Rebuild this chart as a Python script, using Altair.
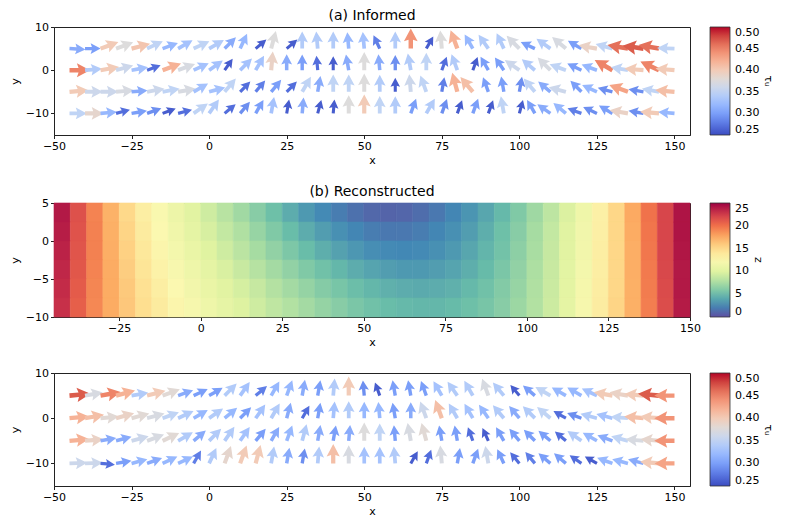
import altair as alt
import pandas as pd

# ---------------- quiver grid ----------------
XS = list(range(-45, 155, 5))          # 40 arrow columns
ROW_Y = [5, 0, -5, -10]

# (a) Informed: direction (deg, 0 = right, 90 = up) and tau_u per row
A_DIR = {
    5:   [-3, 0, 20, 20, 15, 25, 20, 30, 25, 30, 45, 65, 40, 75, 40, 90, 95, 90, 95, 95,
          115, 90, 90, 60, 95, 110, 120, 125, 115, 135, 155, 145, 140, 150, 170, 165, 170, 172, 170, 178],
    0:   [0, 5, 10, 15, 10, 20, 20, 20, 25, 35, 55, 45, 60, 85, 90, 90, 95, 90, 100, 90,
          95, 90, 100, 90, 70, 110, 70, 120, 125, 145, 140, 135, 160, 155, 160, 150, 170, 175, 155, 175],
    -5:  [5, 0, 0, 5, 5, 10, 10, 10, 30, 15, 50, 45, 50, 50, 45, 60, 80, 90, 90, 90,
          90, 90, 95, 110, 80, 105, 130, 110, 100, 80, 130, 140, 165, 135, 155, 165, 160, 170, 170, 175],
    -10: [0, 0, 5, 15, 10, 20, 20, 15, 35, 55, 40, 50, 60, 80, 80, 85, 75, 85, 90, 90,
          90, 90, 70, 60, 70, 70, 70, 70, 100, 75, 120, 145, 140, 160, 155, 150, 170, 170, 175, 175],
}
A_TAU = {
    5:   [0.31, 0.30, 0.40, 0.375, 0.405, 0.35, 0.32, 0.33, 0.35, 0.34, 0.31, 0.32, 0.26, 0.375, 0.26, 0.34, 0.34, 0.34, 0.32, 0.33,
          0.28, 0.34, 0.44, 0.26, 0.375, 0.42, 0.32, 0.34, 0.34, 0.37, 0.30, 0.34, 0.37, 0.30, 0.39, 0.35, 0.46, 0.47, 0.46, 0.35],
    0:   [0.45, 0.34, 0.40, 0.36, 0.33, 0.27, 0.42, 0.37, 0.33, 0.33, 0.26, 0.33, 0.33, 0.39, 0.31, 0.30, 0.27, 0.26, 0.31, 0.375,
          0.31, 0.29, 0.34, 0.35, 0.27, 0.34, 0.26, 0.30, 0.30, 0.36, 0.34, 0.37, 0.35, 0.30, 0.32, 0.45, 0.35, 0.40, 0.45, 0.40],
    -5:  [0.40, 0.36, 0.36, 0.37, 0.31, 0.36, 0.35, 0.37, 0.33, 0.33, 0.35, 0.27, 0.28, 0.30, 0.27, 0.35, 0.31, 0.35, 0.35, 0.375,
          0.34, 0.26, 0.36, 0.35, 0.28, 0.42, 0.41, 0.30, 0.30, 0.29, 0.35, 0.31, 0.36, 0.30, 0.32, 0.29, 0.43, 0.29, 0.35, 0.41],
    -10: [0.35, 0.385, 0.32, 0.27, 0.30, 0.29, 0.26, 0.27, 0.35, 0.34, 0.27, 0.29, 0.30, 0.33, 0.26, 0.31, 0.26, 0.26, 0.375, 0.40,
          0.35, 0.34, 0.30, 0.34, 0.29, 0.26, 0.30, 0.26, 0.35, 0.26, 0.30, 0.31, 0.32, 0.28, 0.29, 0.30, 0.39, 0.29, 0.40, 0.32],
}

# (c) bottom panel
C_DIR = {
    5:   [5, 10, 10, 15, 10, 15, 20, 20, 25, 30, 45, 55, 40, 60, 70, 80, 80, 85, 90, 95,
          110, 100, 100, 110, 120, 125, 120, 110, 130, 130, 140, 150, 150, 150, 155, 170, 170, 175, 175, 180],
    0:   [5, 10, 5, 15, 15, 15, 20, 25, 30, 35, 40, 45, 55, 60, 75, 60, 80, 85, 90, 90,
          95, 100, 90, 110, 110, 120, 120, 125, 130, 130, 135, 140, 150, 160, 165, 165, 175, 175, 175, 180],
    -5:  [5, 5, 10, 15, 15, 20, 25, 30, 40, 45, 55, 55, 50, 60, 70, 75, 80, 80, 85, 90,
          90, 95, 100, 105, 100, 100, 110, 115, 120, 130, 135, 140, 140, 145, 150, 160, 165, 175, 175, 180],
    -10: [2, 2, -5, 10, 15, 20, 25, 25, 60, 65, 70, 70, 75, 80, 80, 80, 85, 90, 90, 90,
          90, 95, 60, 70, 95, 80, 70, 100, 115, 130, 130, 140, 140, 145, 150, 160, 165, 165, 175, 180],
}
C_TAU = {
    5:   [0.47, 0.37, 0.45, 0.42, 0.34, 0.40, 0.38, 0.31, 0.30, 0.30, 0.34, 0.33, 0.28, 0.32, 0.32, 0.31, 0.30, 0.34, 0.40, 0.29,
          0.26, 0.30, 0.30, 0.30, 0.33, 0.34, 0.34, 0.37, 0.34, 0.26, 0.30, 0.35, 0.32, 0.32, 0.33, 0.40, 0.39, 0.40, 0.47, 0.44],
    0:   [0.42, 0.41, 0.38, 0.39, 0.38, 0.37, 0.35, 0.34, 0.32, 0.34, 0.32, 0.30, 0.33, 0.34, 0.31, 0.27, 0.30, 0.33, 0.34, 0.32,
          0.32, 0.30, 0.31, 0.36, 0.41, 0.34, 0.33, 0.32, 0.34, 0.31, 0.34, 0.35, 0.27, 0.29, 0.34, 0.33, 0.35, 0.41, 0.40, 0.44],
    -5:  [0.42, 0.39, 0.31, 0.31, 0.36, 0.37, 0.38, 0.34, 0.31, 0.34, 0.34, 0.33, 0.30, 0.31, 0.32, 0.34, 0.31, 0.30, 0.31, 0.375,
          0.35, 0.30, 0.37, 0.38, 0.30, 0.30, 0.27, 0.26, 0.30, 0.30, 0.30, 0.30, 0.27, 0.34, 0.32, 0.31, 0.35, 0.37, 0.385, 0.44],
    -10: [0.36, 0.36, 0.27, 0.30, 0.32, 0.31, 0.32, 0.32, 0.28, 0.34, 0.385, 0.40, 0.40, 0.34, 0.31, 0.29, 0.34, 0.41, 0.37, 0.33,
          0.33, 0.34, 0.26, 0.27, 0.37, 0.30, 0.30, 0.36, 0.30, 0.27, 0.28, 0.30, 0.30, 0.27, 0.26, 0.32, 0.32, 0.31, 0.40, 0.43],
}

# ---------------- reconstructed field (b) ----------------
HX = [-42.5 + 5 * i for i in range(39)]          # cell centres in x
HY = [3.75, 1.25, -1.25, -3.75, -6.25, -8.75]    # cell centres in y
Z_ROWS = [
    [24.0, 21.5, 19.2, 17.2, 15.2, 13.4, 12.3, 11.2, 10.2, 9.2, 8.2, 7.2, 6.2, 5.2, 4.2, 3.3, 2.6, 2.0, 1.5, 1.1,
     0.9, 1.0, 1.3, 1.8, 2.4, 3.1, 3.9, 4.8, 5.9, 7.1, 8.4, 9.8, 11.4, 13.2, 15.3, 17.6, 19.9, 22.0, 24.2],
    [23.8, 21.4, 19.3, 17.3, 15.4, 13.7, 12.5, 11.5, 10.5, 9.6, 8.7, 7.8, 6.8, 5.9, 5.0, 4.2, 3.5, 2.9, 2.4, 2.0,
     1.8, 1.8, 2.0, 2.4, 2.9, 3.5, 4.3, 5.2, 6.2, 7.4, 8.7, 10.1, 11.6, 13.3, 15.3, 17.5, 19.8, 22.0, 24.2],
    [23.6, 21.3, 19.3, 17.4, 15.6, 14.0, 12.8, 11.8, 10.9, 10.0, 9.2, 8.3, 7.4, 6.6, 5.8, 5.0, 4.3, 3.7, 3.2, 2.8,
     2.6, 2.5, 2.6, 2.9, 3.3, 3.9, 4.6, 5.4, 6.4, 7.5, 8.8, 10.2, 11.7, 13.4, 15.3, 17.4, 19.7, 22.0, 24.1],
    [23.4, 21.2, 19.2, 17.5, 15.8, 14.3, 13.1, 12.1, 11.3, 10.5, 9.7, 8.9, 8.1, 7.3, 6.6, 5.9, 5.3, 4.7, 4.2, 3.8,
     3.5, 3.3, 3.3, 3.5, 3.8, 4.3, 4.9, 5.7, 6.6, 7.7, 8.9, 10.3, 11.8, 13.4, 15.3, 17.4, 19.6, 21.9, 24.0],
    [23.2, 21.0, 19.1, 17.5, 16.0, 14.6, 13.4, 12.5, 11.7, 10.9, 10.2, 9.5, 8.8, 8.0, 7.3, 6.7, 6.1, 5.6, 5.1, 4.7,
     4.4, 4.2, 4.1, 4.2, 4.4, 4.8, 5.3, 6.0, 6.8, 7.8, 9.0, 10.4, 11.9, 13.5, 15.3, 17.3, 19.5, 21.8, 24.0],
    [23.0, 20.8, 19.0, 17.5, 16.1, 14.8, 13.7, 12.8, 12.0, 11.3, 10.6, 9.9, 9.2, 8.5, 7.9, 7.3, 6.7, 6.2, 5.7, 5.3,
     5.0, 4.8, 4.7, 4.7, 4.9, 5.2, 5.6, 6.2, 7.0, 7.9, 9.1, 10.5, 12.0, 13.6, 15.4, 17.3, 19.4, 21.7, 23.9],
]

COOLWARM = ["#3b4cc0", "#5977e3", "#7b9ff9", "#9ebeff", "#c0d4f5", "#dddcdc",
            "#f2cbb7", "#f7ac8e", "#ee8468", "#d65244", "#b40426"]

# arrow glyph pointing right, tail at the origin (matplotlib quiver style)
ARROW = "M0,-0.22L0.88,-0.22L0.72,-0.68L2,0L0.72,0.68L0.88,0.22L0,0.22Z"

FONT = "DejaVu Sans"
W = 636


def quiver_frame(dirs, taus):
    rows = []
    for y in ROW_Y:
        assert len(dirs[y]) == len(XS) and len(taus[y]) == len(XS)
        for x, d, t in zip(XS, dirs[y], taus[y]):
            rows.append({"x": x, "y": y, "dir": d % 360, "tau": t, "tau_len": t})
    return pd.DataFrame(rows)


def minus(expr="datum.label"):
    return "replace(" + expr + ", '-', '\u2212')"


def legend(title, length, values, fmt):
    return alt.Legend(title=title, type="gradient", orient="right", offset=20, direction="vertical",
                      gradientLength=length, gradientThickness=20,
                      values=values, format=fmt,
                      titleOrient="right", titleAnchor="middle",
                      titleFontSize=11, titleFontWeight="normal", titlePadding=4,
                      labelFontSize=11, labelOffset=5,
                      gradientStrokeColor="#333", gradientStrokeWidth=0.8)


def title(text):
    return alt.TitleParams(text, fontSize=14, fontWeight="normal", offset=-2,
                           anchor="middle", font=FONT, color="black")


def quiver_chart(df, height, ttl=None):
    ch = alt.Chart(df).mark_point(shape=ARROW, filled=True, opacity=1, strokeWidth=0).encode(
        x=alt.X("x:Q", scale=alt.Scale(domain=[-50, 155], nice=False, zero=False),
                axis=alt.Axis(values=[-50, -25, 0, 25, 50, 75, 100, 125, 150], title="x",
                              labelExpr=minus())),
        y=alt.Y("y:Q", scale=alt.Scale(domain=[-15, 10], nice=False, zero=False),
                axis=alt.Axis(values=[-10, 0, 10], title="y", labelExpr=minus())),
        angle=alt.Angle("dir:Q", scale=alt.Scale(domain=[0, 360], range=[360, 0])),
        size=alt.Size("tau_len:Q", scale=alt.Scale(domain=[0.2, 0.5], range=[125, 480]), legend=None),
        color=alt.Color("tau:Q",
                        scale=alt.Scale(domain=[0.25, 0.5], range=COOLWARM, clamp=True, interpolate="rgb"),
                        legend=legend("τᵤ", height, [0.25, 0.3, 0.35, 0.4, 0.45, 0.5], ".2f")),
    ).properties(width=W, height=height)
    if ttl:
        ch = ch.properties(title=title(ttl))
    return ch


dfa = quiver_frame(A_DIR, A_TAU)
dfc = quiver_frame(C_DIR, C_TAU)

hrows = []
for yc, zr in zip(HY, Z_ROWS):
    assert len(zr) == len(HX)
    for xc, z in zip(HX, zr):
        hrows.append({"x0": xc - 2.5, "x1": xc + 2.5, "y0": yc - 1.25, "y1": yc + 1.25, "z": z, "z_edge": z})
dfb = pd.DataFrame(hrows)

chart_a = quiver_chart(dfa, 108, "(a) Informed")
chart_c = quiver_chart(dfc, 113)

chart_b = alt.Chart(dfb).mark_rect(strokeWidth=0.6).encode(
    x=alt.X("x0:Q", scale=alt.Scale(domain=[-45, 150], nice=False, zero=False),
            axis=alt.Axis(values=[-25, 0, 25, 50, 75, 100, 125, 150], title="x", labelExpr=minus())),
    x2="x1:Q",
    y=alt.Y("y0:Q", scale=alt.Scale(domain=[-10, 5], nice=False, zero=False),
            axis=alt.Axis(values=[-10, -5, 0, 5], title="y", labelExpr=minus())),
    y2="y1:Q",
    color=alt.Color("z:Q", scale=alt.Scale(domain=[0, 25], scheme="spectral", reverse=True),
                    legend=legend("z", 114, [0, 5, 10, 15, 20, 25], "d")),
    stroke=alt.Stroke("z_edge:Q", scale=alt.Scale(domain=[0, 25.0001], scheme="spectral", reverse=True),
                      legend=None),
).properties(width=W, height=114, title=title("(b) Reconstructed"))

chart = alt.vconcat(chart_a, chart_b, chart_c, spacing=18).resolve_scale(
    color="independent", size="independent", angle="independent", stroke="independent"
).resolve_legend(color="independent").properties(
    padding={"left": 0, "top": 0, "right": 0, "bottom": 0}, background="white"
).configure(font=FONT).configure_view(
    stroke="#222", strokeWidth=1
).configure_axis(
    grid=False, domainColor="#222", domainWidth=1, tickColor="#222", tickSize=3.5, tickWidth=1,
    labelFontSize=11, labelColor="black", labelPadding=2, labelFlush=False, titleFontSize=11,
    titleColor="black", titleFontWeight="normal", titlePadding=3, labelFont=FONT, titleFont=FONT
).configure_axisY(titlePadding=5).configure_legend(
    labelFont=FONT, titleFont=FONT, labelColor="black", titleColor="black")

chart.save("out.html", embed_options={"renderer": "svg", "actions": False})
